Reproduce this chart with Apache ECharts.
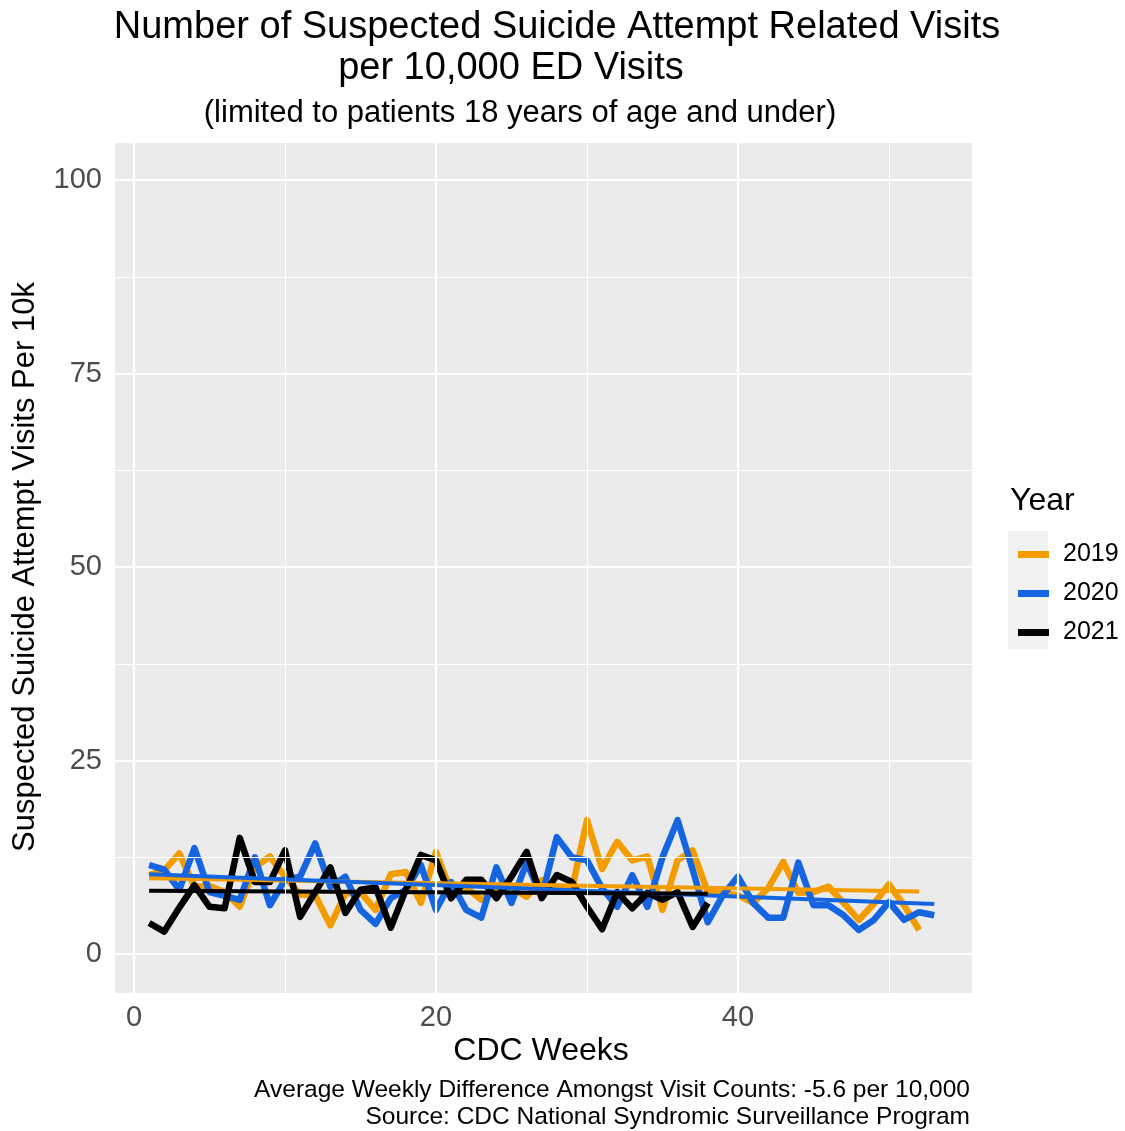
<!DOCTYPE html>
<html>
<head>
<meta charset="utf-8">
<script src="https://cdn.jsdelivr.net/npm/echarts@6/dist/echarts.min.js"></script>
<style>
  html, body { margin: 0; padding: 0; background: #fff; }
  #chart { width: 1125px; height: 1131px; }
</style>
</head>
<body>
<div id="chart"></div>
<script>
const years = ['2019', '2020', '2021'];
const colors = ['#f39c00', '#1565e0', '#000000'];

// weekly values, week 1 onwards
const visits2019 = [10.2, 10.8, 13.0, 8.7, 8.8, 8.0, 6.1, 11.2, 12.6, 10.0, 7.7, 7.6, 3.7, 7.8, 8.0, 5.7,
  10.3, 10.6, 6.6, 13.2, 8.0, 8.6, 7.0, 8.5, 8.5, 7.4, 9.5, 8.2, 8.3, 17.3, 11.0, 14.5, 12.1, 12.6,
  5.7, 12.1, 13.4, 8.0, 7.9, 7.6, 6.6, 8.5, 11.9, 7.9, 8.0, 8.7, 6.6, 4.4, 6.5, 9.0, 6.3, 3.1];
const visits2020 = [11.5, 10.9, 8.3, 13.7, 8.0, 7.5, 7.0, 12.5, 6.3, 9.6, 10.0, 14.3, 8.7, 10.0, 5.7,
  3.9, 7.2, 8.3, 11.5, 5.7, 9.3, 5.7, 4.7, 11.2, 6.6, 11.8, 7.4, 15.1, 12.5, 12.1, 8.5, 6.1, 10.2,
  6.1, 12.5, 17.3, 10.9, 4.1, 7.6, 10.0, 6.6, 4.7, 4.7, 11.8, 6.3, 6.3, 5.0, 3.1, 4.4, 6.7, 4.4,
  5.4, 5.0];
const visits2021 = [4.0, 2.9, 6.0, 8.9, 6.1, 5.9, 15.0, 9.3, 9.3, 13.4, 4.8, 8.0, 11.2, 5.3, 8.3, 8.6,
  3.4, 8.3, 12.8, 12.1, 7.2, 9.6, 9.6, 7.2, 10.0, 13.2, 7.2, 10.2, 9.3, 6.1, 3.2, 8.0, 5.9, 7.9,
  7.0, 8.0, 3.5, 6.6];

const xTicks = [0, 20, 40];
const xMinor = [10, 30, 50];
const yTicks = [0, 25, 50, 75, 100];
const yMinor = [12.5, 37.5, 62.5, 87.5];

const allVisits = [visits2019, visits2020, visits2021];
const fontName = 'Liberation Sans, Arial, sans-serif';

function toPoints(values) {
    return values.map((v, i) => [i + 1, v]);
}

// least squares line over the weeks of one year
function trendLine(values) {
    const n = values.length;
    let sx = 0, sy = 0, sxx = 0, sxy = 0;
    values.forEach((v, i) => {
        const x = i + 1;
        sx += x; sy += v; sxx += x * x; sxy += x * v;
    });
    const slope = (n * sxy - sx * sy) / (n * sxx - sx * sx);
    const icpt = (sy - slope * sx) / n;
    return [[1, icpt + slope], [n, icpt + slope * n]];
}

function gridLines() {
    const data = [];
    xMinor.forEach(v => data.push({ xAxis: v, lineStyle: { width: 1 } }));
    yMinor.forEach(v => data.push({ yAxis: v, lineStyle: { width: 1 } }));
    xTicks.forEach(v => data.push({ xAxis: v, lineStyle: { width: 2.2 } }));
    yTicks.forEach(v => data.push({ yAxis: v, lineStyle: { width: 2.2 } }));
    return data;
}

let series = [{
    name: 'grid',
    type: 'line',
    data: [],
    silent: true,
    z: 1,
    markLine: {
        silent: true,
        symbol: 'none',
        label: { show: false },
        lineStyle: { color: '#ffffff', type: 'solid' },
        data: gridLines()
    }
}];

allVisits.forEach((values, k) => {
    series.push({
        name: years[k],
        type: 'line',
        data: toPoints(values),
        showSymbol: false,
        lineStyle: { color: colors[k], width: 6.5, join: 'round' },
        itemStyle: { color: colors[k] },
        z: 3
    });
});
allVisits.forEach((values, k) => {
    series.push({
        name: years[k] + ' trend',
        type: 'line',
        data: trendLine(values),
        showSymbol: false,
        lineStyle: { color: colors[k], width: 4 },
        z: 4
    });
});

const chart = echarts.init(document.getElementById('chart'));
chart.setOption({
    animation: false,
    backgroundColor: '#ffffff',
    textStyle: { fontFamily: fontName },
    grid: { left: 115, top: 143, width: 857, height: 850, show: true, backgroundColor: '#ebebeb', borderWidth: 0 },
    xAxis: {
        type: 'value',
        min: -1.26,
        max: 55.5,
        axisLine: { show: false },
        splitLine: { show: false },
        axisTick: { show: true, customValues: xTicks, length: 7, lineStyle: { color: '#333333', width: 1.5 } },
        axisLabel: { customValues: xTicks, color: '#4d4d4d', fontSize: 29, margin: 10, fontFamily: fontName }
    },
    yAxis: {
        type: 'value',
        min: -5.04,
        max: 104.8,
        axisLine: { show: false },
        splitLine: { show: false },
        axisTick: { show: true, customValues: yTicks, length: 7, lineStyle: { color: '#333333', width: 1.5 } },
        axisLabel: { customValues: yTicks, color: '#4d4d4d', fontSize: 29, margin: 13, fontFamily: fontName }
    },
    legend: {
        data: years,
        orient: 'vertical',
        left: 1013,
        top: 537,
        icon: 'rect',
        itemWidth: 31,
        itemHeight: 7,
        itemGap: 14,
        selectedMode: false,
        textStyle: { fontSize: 25, color: '#000000', fontFamily: fontName, padding: [0, 0, 0, 9] }
    },
    graphic: [
        { type: 'rect', z: -1, shape: { x: 1008, y: 531, width: 40, height: 118 }, style: { fill: '#f2f2f2' } },
        { type: 'text', style: { x: 557, y: 28, text: 'Number of Suspected Suicide Attempt Related Visits', font: '38px ' + fontName, fill: '#000', textAlign: 'center', textVerticalAlign: 'middle' } },
        { type: 'text', style: { x: 511, y: 69, text: 'per 10,000 ED Visits', font: '38px ' + fontName, fill: '#000', textAlign: 'center', textVerticalAlign: 'middle' } },
        { type: 'text', style: { x: 520, y: 113, text: '(limited to patients 18 years of age and under)', font: '31px ' + fontName, fill: '#000', textAlign: 'center', textVerticalAlign: 'middle' } },
        { type: 'text', style: { x: 541, y: 1051, text: 'CDC Weeks', font: '32px ' + fontName, fill: '#000', textAlign: 'center', textVerticalAlign: 'middle' } },
        { type: 'text', rotation: Math.PI / 2, x: 25, y: 567, style: { x: 0, y: 0, text: 'Suspected Suicide Attempt Visits Per 10k', font: '31px ' + fontName, fill: '#000', textAlign: 'center', textVerticalAlign: 'middle' } },
        { type: 'text', style: { x: 1010, y: 501, text: 'Year', font: '32px ' + fontName, fill: '#000', textAlign: 'left', textVerticalAlign: 'middle' } },
        { type: 'text', style: { x: 970, y: 1090, text: 'Average Weekly Difference Amongst Visit Counts: -5.6 per 10,000', font: '24.5px ' + fontName, fill: '#000', textAlign: 'right', textVerticalAlign: 'middle' } },
        { type: 'text', style: { x: 970, y: 1117, text: 'Source: CDC National Syndromic Surveillance Program', font: '24.5px ' + fontName, fill: '#000', textAlign: 'right', textVerticalAlign: 'middle' } }
    ],
    series: series
});
</script>
</body>
</html>
